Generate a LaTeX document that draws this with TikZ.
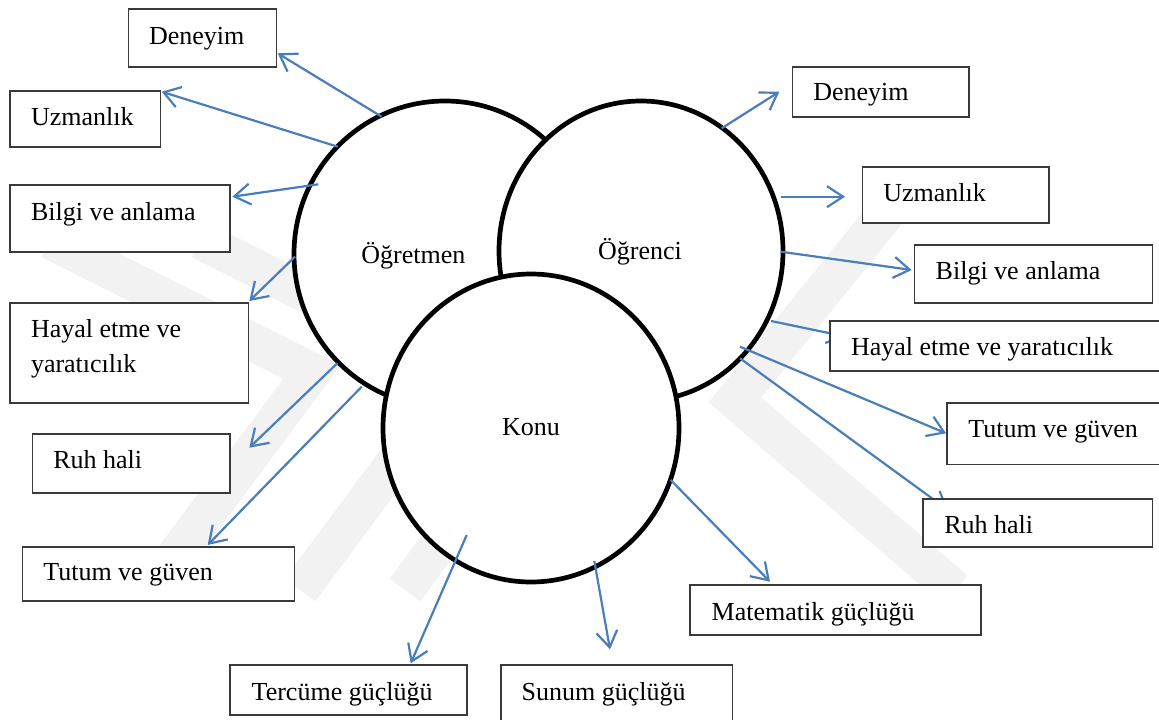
\documentclass[tikz,border=0pt]{standalone}
\usepackage{fontspec}
\setmainfont{Liberation Serif}
\usetikzlibrary{arrows.meta,shapes.geometric,fit}
\definecolor{arrowblue}{RGB}{74,126,187}
\definecolor{boxline}{RGB}{58,58,58}
\definecolor{wm}{RGB}{242,242,242}
\begin{document}
\begin{tikzpicture}[x=1pt,y=-1pt,
  box/.style={draw=boxline,line width=1.6pt,fill=white,rectangle,inner sep=0pt,outer sep=0pt},
  lbl/.style={inner sep=0pt,outer sep=0pt,font=\fontsize{26}{35}\selectfont,anchor=base west},
  ctext/.style={inner sep=0pt,outer sep=0pt,font=\fontsize{26}{35}\selectfont,anchor=base},
  circ/.style={draw=black,line width=4.7pt,fill=white,ellipse,inner sep=0pt,outer sep=0pt},
  conn/.style={draw=arrowblue,line width=2.2pt,-{Straight Barb[length=16pt,width=21pt]}},
  wmband/.style={draw=wm,line width=38pt,line join=miter,line cap=butt}]
\useasboundingbox (0,0) rectangle (1159,720);
% watermark
\draw[wmband] (50,240) -- (312,372) -- (150,590);
\draw[wmband] (200,240) -- (462,372) -- (300,590);
\draw[wmband] (405,590) -- (545,400);
\draw[wmband] (905,190) -- (735,400) -- (955,590);
% circles
\node[circ,minimum width=302pt,minimum height=306pt] (ogt) at (445,254) {};
\node[circ,minimum width=284pt,minimum height=300pt] (ogr) at (641,251) {};
\node[circ,minimum width=296pt,minimum height=308pt] (konu) at (531,428) {};
\node[ctext] (ogtt) at (413.3,263.3) {Öğretmen};
\node[ctext] (ogrt) at (640,259) {Öğrenci};
\node[ctext] (konut) at (531,435) {Konu};
% connector end points
\coordinate (a1s) at (381.7,116.7); \coordinate (a1e) at (277.7,53.3);
\coordinate (a2s) at (337.7,146.7); \coordinate (a2e) at (161.7,91.7);
\coordinate (a3s) at (318.3,184.3); \coordinate (a3e) at (232.3,196.7);
\coordinate (a4s) at (295,256.7);   \coordinate (a4e) at (249.3,301);
\coordinate (a5s) at (337.3,363.3); \coordinate (a5e) at (249.3,447.7);
\coordinate (a6s) at (361.7,386.7); \coordinate (a6e) at (207.7,545);
\coordinate (b1s) at (721.7,128.3); \coordinate (b1e) at (779.3,91.7);
\coordinate (b2s) at (780.7,196.7); \coordinate (b2e) at (845,196.7);
\coordinate (b3s) at (780.7,251.7); \coordinate (b3e) at (911.7,270);
\coordinate (b4s) at (771,321);     \coordinate (b4e) at (845,336.4);
\coordinate (b5s) at (740,346.7);   \coordinate (b5e) at (946,433.3);
\coordinate (b6s) at (740,358.3);   \coordinate (b6e) at (948,510);
\coordinate (c1s) at (670.7,480);   \coordinate (c1e) at (770,581.7);
\coordinate (c2s) at (466.7,535);   \coordinate (c2e) at (410.7,663.3);
\coordinate (c3s) at (594.3,561);   \coordinate (c3e) at (610,649.3);
% connectors
\foreach \p in {a1,a2,a3,a4,a5,a6,b1,b2,b3,b4,b5,b6,c1,c2,c3}
  \draw[conn] (\p s) -- (\p e);
% boxes, left
\node[box,fit={(128.3,9) (276.3,66.7)}] (denL) {};
\node[lbl] (denLt) at (149,44.3) {Deneyim};
\node[box,fit={(10,90.7) (160.3,146.7)}] (uzmL) {};
\node[lbl] (uzmLt) at (31,125) {Uzmanlık};
\node[box,fit={(10,185) (230,251.7)}] (bilL) {};
\node[lbl] (bilLt) at (31,220) {Bilgi ve anlama};
\node[box,fit={(10,302.7) (248.3,402.7)}] (hayL) {};
\node[lbl] (hayLt) at (31,337.7) {Hayal etme ve};
\node[lbl] (hayLu) at (31,372.7) {yaratıcılık};
\node[box,fit={(32.3,434) (230,492.7)}] (ruhL) {};
\node[lbl] (ruhLt) at (53.3,468.3) {Ruh hali};
\node[box,fit={(22.3,546.7) (294.3,600.7)}] (tutL) {};
\node[lbl] (tutLt) at (43.3,580.7) {Tutum ve güven};
% boxes, right
\node[box,fit={(792.3,66.7) (968.7,116.7)}] (denR) {};
\node[lbl] (denRt) at (813.3,100.7) {Deneyim};
\node[box,fit={(862.3,166.7) (1048.7,222.7)}] (uzmR) {};
\node[lbl] (uzmRt) at (883.3,201.7) {Uzmanlık};
\node[box,fit={(914.3,245) (1152.3,302.7)}] (bilR) {};
\node[lbl] (bilRt) at (935.7,279.3) {Bilgi ve anlama};
\node[box,fit={(830,320.7) (1175,370.7)}] (hayR) {};
\node[lbl] (hayRt) at (851,355) {Hayal etme ve yaratıcılık};
\node[box,fit={(946.7,402.7) (1175,464.3)}] (tutR) {};
\node[lbl] (tutRt) at (968.3,437.7) {Tutum ve güven};
\node[box,fit={(922.7,499) (1152.3,546.7)}] (ruhR) {};
\node[lbl] (ruhRt) at (944.3,533.3) {Ruh hali};
% boxes, bottom
\node[box,fit={(690,585) (981,635)}] (mat) {};
\node[lbl] (matt) at (711.7,620) {Matematik güçlüğü};
\node[box,fit={(230,665) (466.7,715)}] (ter) {};
\node[lbl] (tert) at (251.7,700) {Tercüme güçlüğü};
\node[box,fit={(500.7,665) (732.3,735)}] (sun) {};
\node[lbl] (sunt) at (521.7,700) {Sunum güçlüğü};
\end{tikzpicture}
\end{document}
